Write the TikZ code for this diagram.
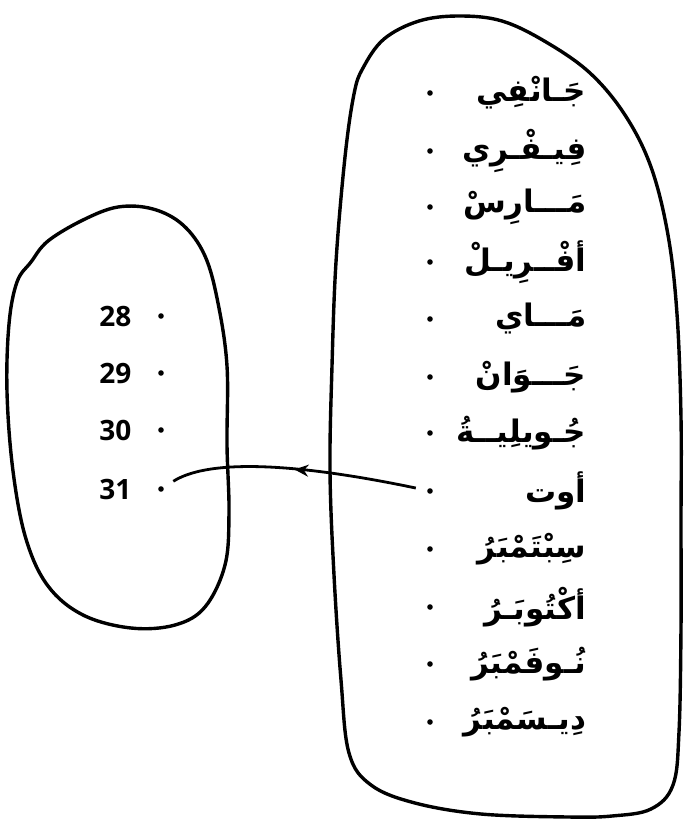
\documentclass[tikz,border=0pt]{standalone}
\usepackage{fontspec}
\newfontfamily\arabicfont[Script=Arabic]{DejaVu Sans}
\newfontfamily\numfont{Open Sans}
\TeXXeTstate=1
\usetikzlibrary{arrows.meta,decorations.markings}

\begin{document}
\begin{tikzpicture}[x=0.5pt,y=-0.5pt,line width=1.7pt,
  month/.style={anchor=east,inner sep=0pt,font=\arabicfont\bfseries\fontsize{15.5}{18}\selectfont},
  day/.style={anchor=east,inner sep=0pt,font=\numfont\bfseries\fontsize{14}{16}\selectfont},
  bullet/.style={circle,fill,inner sep=0pt,minimum size=2.8pt}]
  \useasboundingbox (0,0) rectangle (685,820);
  % left set
  \draw[line join=round] plot[smooth cycle,tension=0.6] coordinates {
    (31,262) (48,241) (83,220) (118,207) (153,209) (183,225) (205,256)
    (218,303) (227,366) (227,445) (229,513) (225,565) (205,607) (175,625)
    (131,628) (83,615) (48,586) (26,539) (13,471) (7,392) (9,324) (17,282)};
  % right set
  \draw[line join=round] plot[smooth cycle,tension=0.6] coordinates {
    (363,68) (384,39) (419,21) (459,16) (502,21) (546,42) (590,73) (625,115)
    (651,167) (668,235) (677,314) (681,418) (681,523) (681,628) (679,732)
    (673,785) (651,809) (612,816) (568,817) (481,814) (415,803) (371,785)
    (349,753) (341,680) (334,575) (330,471) (332,366) (336,262) (345,157) (354,94)};
  % days
  \node[day] (t28) at (133,316) {28};
  \node[day] (t29) at (133,373) {29};
  \node[day] (t30) at (133,430) {30};
  \node[day] (t31) at (133,489) {31};
  \node[bullet] (n28) at (161,316) {};
  \node[bullet] (n29) at (161,373) {};
  \node[bullet] (n30) at (161,430) {};
  \node[bullet] (n31) at (161,489) {};
  % months
  \node[month] (m1) at (588,93) {\beginR جَـانْفِي\endR};
  \node[month] (m2) at (588,151) {\beginR فِيـفْـرِي\endR};
  \node[month] (m3) at (588,207) {\beginR مَـــارِسْ\endR};
  \node[month] (m4) at (588,262) {\beginR أفْــرِيـلْ\endR};
  \node[month] (m5) at (588,319) {\beginR مَـــاي\endR};
  \node[month] (m6) at (588,377) {\beginR جَـــوَانْ\endR};
  \node[month] (m7) at (588,433) {\beginR جُـويلِيــةُ\endR};
  \node[month] (m8) at (588,491) {\beginR أوت\endR};
  \node[month] (m9) at (588,549) {\beginR سِبْتَمْبَرُ\endR};
  \node[month] (m10) at (588,607) {\beginR أكْتُوبَـرُ\endR};
  \node[month] (m11) at (588,664) {\beginR نُـوفَمْبَرُ\endR};
  \node[month] (m12) at (588,722) {\beginR دِيـسَمْبَرُ\endR};
  \node[bullet] (d1) at (430,93) {};
  \node[bullet] (d2) at (430,151) {};
  \node[bullet] (d3) at (430,207) {};
  \node[bullet] (d4) at (430,262) {};
  \node[bullet] (d5) at (430,319) {};
  \node[bullet] (d6) at (430,377) {};
  \node[bullet] (d7) at (430,433) {};
  \node[bullet] (d8) at (430,491) {};
  \node[bullet] (d9) at (430,549) {};
  \node[bullet] (d10) at (430,607) {};
  \node[bullet] (d11) at (430,664) {};
  \node[bullet] (d12) at (430,722) {};
  % link
  \draw[line width=1.4pt,shorten <=5pt,shorten >=5pt,postaction={decorate},
    decoration={markings,mark=at position 0.5 with {\arrow{Stealth[length=7pt,width=6pt]}}}]
    (d8) .. controls (320,468) and (215,455) .. (n31);
\end{tikzpicture}
\end{document}
